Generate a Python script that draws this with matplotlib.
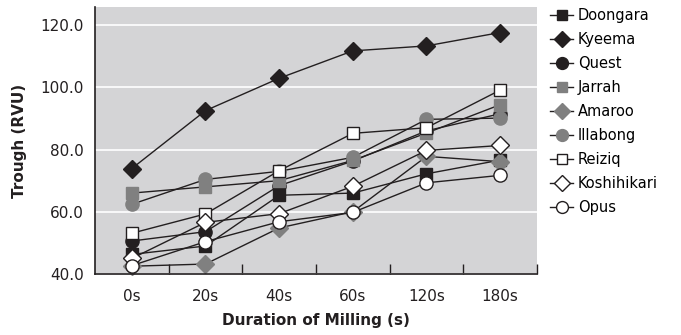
import matplotlib
matplotlib.use("Agg")
import matplotlib.pyplot as plt

durations = ["0s", "20s", "40s", "60s", "120s", "180s"]

doongara = [46.3, 49.0, 65.3, 66.0, 72.2, 76.6]
kyeema = [73.9, 92.5, 102.9, 111.7, 113.3, 117.6]
quest = [50.6, 53.6, 68.4, 76.3, 86.0, 91.5]
jarrah = [66.0, 68.0, 70.0, 76.5, 85.3, 94.4]
amaroo = [42.5, 43.2, 54.8, 60.0, 77.8, 76.1]
illabong = [62.4, 70.4, 73.0, 77.5, 89.7, 90.1]
reiziq = [53.1, 59.3, 73.2, 85.2, 87.0, 99.1]
koshihikari = [45.0, 56.6, 59.4, 68.2, 79.7, 81.3]
opus = [42.7, 50.4, 56.8, 59.8, 69.3, 71.7]

BLACK = "#231f20"
GREY = "#808080"

series = [
    ("Doongara", doongara, "s", BLACK, BLACK, 8.5),
    ("Kyeema", kyeema, "D", BLACK, BLACK, 9),
    ("Quest", quest, "o", BLACK, BLACK, 9.5),
    ("Jarrah", jarrah, "s", GREY, GREY, 8.5),
    ("Amaroo", amaroo, "D", GREY, GREY, 9),
    ("Illabong", illabong, "o", GREY, GREY, 9.5),
    ("Reiziq", reiziq, "s", "white", BLACK, 8.5),
    ("Koshihikari", koshihikari, "D", "white", BLACK, 9),
    ("Opus", opus, "o", "white", BLACK, 9.5),
]

plt.rcParams["font.family"] = "DejaVu Sans"

fig = plt.figure(figsize=(6.81, 3.35), dpi=100)
ax = fig.add_axes([95 / 681, 61 / 335, 442 / 681, 267 / 335])
ax.set_facecolor("#d4d4d6")

x = list(range(len(durations)))
for name, vals, marker, face, edge, ms in series:
    ax.plot(x, vals, color=BLACK, lw=1.0, marker=marker, markersize=ms,
            markerfacecolor=face, markeredgecolor=edge, markeredgewidth=1.0,
            label=name, clip_on=False)

ax.set_xlim(-0.5, 5.5)
ax.set_ylim(40, 125.8)
ax.set_yticks([40, 60, 80, 100, 120])
ax.set_yticklabels(["40.0", "60.0", "80.0", "100.0", "120.0"])
ax.yaxis.grid(True, color="white", lw=1.2)
ax.set_axisbelow(True)
ax.tick_params(axis="y", length=0, pad=8, labelsize=11, colors="#231f20")

ax.set_xticks(x)
ax.set_xticklabels(durations)
ax.set_xticks([i + 0.5 for i in x], minor=True)
ax.tick_params(axis="x", which="major", length=0, pad=11, labelsize=11,
               colors="#231f20")
ax.tick_params(axis="x", which="minor", direction="in", length=7,
               width=1.0, color=BLACK)

for s in ["top", "right"]:
    ax.spines[s].set_visible(False)
for s in ["left", "bottom"]:
    ax.spines[s].set_color(BLACK)
    ax.spines[s].set_linewidth(1.2)

ax.set_ylabel("Trough (RVU)", fontsize=11, fontweight="bold", labelpad=10,
              color="#231f20")
ax.set_xlabel("Duration of Milling (s)", fontsize=11, fontweight="bold",
              labelpad=6, color="#231f20")

fig.legend(loc="upper left", bbox_to_anchor=(542 / 681, 1.0), frameon=False,
           fontsize=10.5, handlelength=1.6, handletextpad=0.3,
           labelspacing=0.62, borderaxespad=0.15, markerscale=0.9)

fig.savefig("out.png", dpi=100)
